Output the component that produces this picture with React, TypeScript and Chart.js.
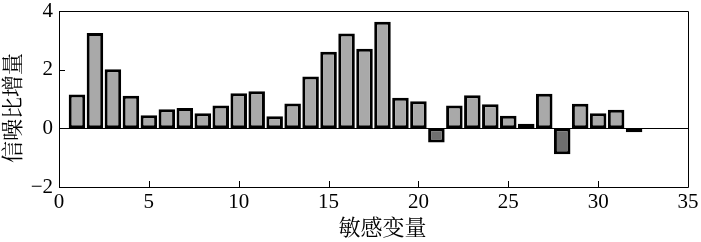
import React, { useEffect, useRef } from "react";
import { Chart, registerables } from "chart.js";

Chart.register(...registerables);

const variables = [1, 2, 3, 4, 5, 6, 7, 8, 9, 10, 11, 12, 13, 14, 15, 16, 17, 18, 19, 20, 21, 22, 23, 24, 25, 26, 27, 28, 29, 30, 31, 32];
const snrGain = [1.15, 3.25, 2.01, 1.11, 0.45, 0.65, 0.69, 0.51, 0.78, 1.2, 1.26, 0.41, 0.85, 1.77, 2.61, 3.23, 2.71, 3.63, 1.04, 0.92, -0.48, 0.78, 1.13, 0.82, 0.43, 0.16, 1.18, -0.88, 0.84, 0.51, 0.63, -0.13];
const darkBars = [21, 26, 28, 32];
const xTicks = [0, 5, 10, 15, 20, 25, 30, 35];
const yTicks = [-2, 0, 2, 4];
const xTitle = "敏感变量";
const yTitle = "信噪比增量";

const SERIF = "'Liberation Serif', 'Times New Roman', serif";
const CJK = "'Noto Serif CJK SC', 'Noto Sans CJK SC', serif";

export default function App() {
  const ref = useRef<HTMLCanvasElement>(null);
  useEffect(() => {
    const frame = {
      id: "frame",
      afterDraw(chart: any) {
        const { ctx, chartArea: a } = chart;
        const xs = chart.scales.x;
        const ys = chart.scales.y;
        ctx.save();
        ctx.strokeStyle = "#000";
        ctx.lineWidth = 1;
        ctx.beginPath();
        ctx.rect(Math.round(a.left) + 0.5, Math.round(a.top) + 0.5, Math.round(a.right - a.left), Math.round(a.bottom - a.top));
        const y0 = Math.round(ys.getPixelForValue(0)) + 0.5;
        ctx.moveTo(a.left, y0);
        ctx.lineTo(a.right, y0);
        for (const t of xTicks) {
          const px = Math.round(xs.getPixelForValue(t)) + 0.5;
          ctx.moveTo(px, a.bottom);
          ctx.lineTo(px, a.bottom - 6);
        }
        for (const t of yTicks) {
          const py = Math.round(ys.getPixelForValue(t)) + 0.5;
          ctx.moveTo(a.left, py);
          ctx.lineTo(a.left + 6, py);
        }
        ctx.stroke();
        ctx.fillStyle = "#000";
        ctx.font = `22px ${CJK}`;
        ctx.textAlign = "center";
        ctx.textBaseline = "middle";
        ctx.fillText(xTitle, (a.left + a.right) / 2 + 9, 227);
        ctx.translate(12, (a.top + a.bottom) / 2 + 9);
        ctx.rotate(-Math.PI / 2);
        ctx.fillText(yTitle, 0, 0);
        ctx.restore();
      },
    };
    const chart = new Chart(ref.current!, {
      type: "bar",
      data: {
        datasets: [
          {
            data: variables.map((v, i) => ({ x: v, y: snrGain[i] })),
            backgroundColor: variables.map((v) => (darkBars.includes(v) ? "#6f6f6f" : "#a9a9a9")),
            borderColor: "#000",
            borderWidth: 3,
            borderSkipped: false,
            barPercentage: 0.92,
            categoryPercentage: 1,
          },
        ],
      },
      options: {
        responsive: false,
        animation: false,
        layout: { padding: { top: 11, right: 13, left: 0, bottom: 0 } },
        plugins: { legend: { display: false }, tooltip: { enabled: false } },
        scales: {
          x: {
            type: "linear",
            min: 0,
            max: 35,
            offset: false,
            afterBuildTicks: (s: any) => {
              s.ticks = xTicks.map((v) => ({ value: v }));
            },
            afterFit: (s: any) => {
              s.height = 55;
              s.paddingLeft = 0;
              s.paddingRight = 0;
            },
            grid: { display: false, drawTicks: false },
            border: { display: false },
            ticks: { color: "#000", font: { family: SERIF, size: 21 }, padding: 3, maxRotation: 0 },
          },
          y: {
            min: -2,
            max: 4,
            afterBuildTicks: (s: any) => {
              s.ticks = yTicks.map((v) => ({ value: v }));
            },
            afterFit: (s: any) => {
              s.width = 59;
              s.paddingTop = 0;
              s.paddingBottom = 0;
            },
            grid: { display: false, drawTicks: false },
            border: { display: false },
            ticks: {
              color: "#000",
              font: { family: SERIF, size: 21 },
              padding: 6,
              callback: (v: any) => (Number(v) < 0 ? "\u2212" + Math.abs(Number(v)) : String(v)),
            },
          },
        },
      },
      plugins: [frame],
    });
    return () => chart.destroy();
  }, []);
  return (
    <div style={{ position: "absolute", left: 0, top: 0, width: 701, height: 242, background: "#fff" }}>
      <canvas ref={ref} width={701} height={242} />
    </div>
  );
}
